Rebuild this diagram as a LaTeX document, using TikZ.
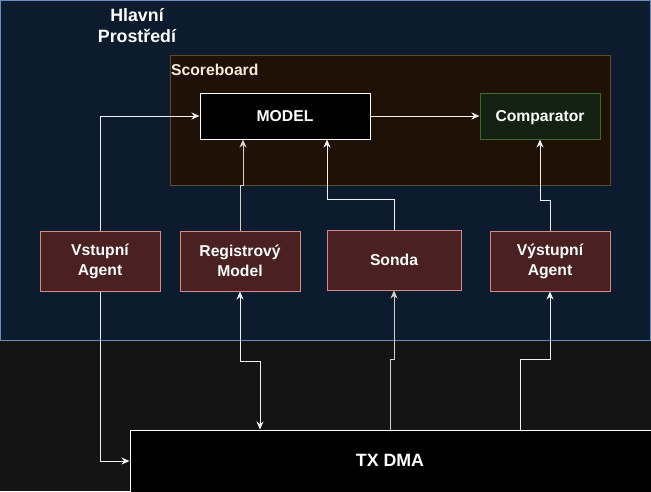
\documentclass[tikz,border=0pt]{standalone}
\usepackage{fontspec}
\setmainfont{Liberation Sans}
\usetikzlibrary{arrows.meta}
\definecolor{bgc}{HTML}{141414}
\definecolor{mainf}{HTML}{0C1B2E}
\definecolor{maind}{HTML}{6B8CBA}
\definecolor{sbf}{HTML}{1F1105}
\definecolor{sbd}{HTML}{5D4A26}
\definecolor{cmpf}{HTML}{132212}
\definecolor{cmpd}{HTML}{3B6B26}
\definecolor{agf}{HTML}{4A2020}
\definecolor{agd}{HTML}{D08A8A}
\definecolor{cream}{HTML}{F5ECD7}
\definecolor{linec}{HTML}{F0F0F0}
\definecolor{lineb}{HTML}{D8D0C4}
\tikzset{
  txt/.style={font=\bfseries\fontsize{15.7}{20}\selectfont, text=white, align=center},
  bigtxt/.style={font=\bfseries\fontsize{17.8}{21}\selectfont, text=white, align=center},
  agentbox/.style={draw=agd, fill=agf, line width=1pt, minimum height=60pt, txt, inner sep=0pt},
  arr/.style={draw=linec, line width=1pt, -{Stealth[length=8pt,width=7pt,inset=2.5pt]}},
  arrb/.style={draw=linec, line width=1pt, {Stealth[length=8pt,width=7pt,inset=2.5pt]}-{Stealth[length=8pt,width=7pt,inset=2.5pt]}},
}
\begin{document}
\begin{tikzpicture}[x=1pt,y=-1pt]
\useasboundingbox (0,0) rectangle (651,491);
\fill[bgc] (0,0) rectangle (651,491);
% main environment
\node[draw=maind, fill=mainf, line width=1pt, minimum width=650pt, minimum height=340pt, inner sep=0pt] (main) at (325,170) {};
\node[bigtxt] (mainl) at (137,26) {Hlavní\\Prostředí};
% scoreboard
\node[draw=sbd, fill=sbf, line width=1pt, minimum width=440pt, minimum height=130pt, inner sep=0pt] (sb) at (390,120) {};
\node[font=\bfseries\fontsize{15.7}{20}\selectfont, text=cream, anchor=west, inner sep=0pt] (sbl) at (171,70) {Scoreboard};
% model and comparator
\node[draw=white, fill=black, line width=1pt, minimum width=170pt, minimum height=46pt, inner sep=0pt, txt] (model) at (285,116) {MODEL};
\node[draw=cmpd, fill=cmpf, line width=1pt, minimum width=120pt, minimum height=46pt, inner sep=0pt, txt, text depth=0pt] (comp) at (540,116) {Comparator};
% agents
\node[agentbox, minimum width=120pt] (va) at (100,261) {Vstupní\\Agent};
\node[agentbox, minimum width=120pt] (rm) at (240,261) {Registrový\\Model};
\node[agentbox, minimum width=134pt] (so) at (394,260) {Sonda};
\node[agentbox, minimum width=120pt] (vy) at (550,261) {Výstupní\\Agent};
% TX DMA
\node[draw=white, fill=black, line width=1pt, minimum width=522pt, minimum height=62pt, inner sep=0pt, bigtxt] (tx) at (391,461) {};
\node[bigtxt] (txl) at (390,460.5) {TX DMA};
% connectors
\draw[arr] (model.east) -- (comp.west);
\draw[arr] (va.north) |- (model.west);
\draw[arr] (va.south) |- (tx.west);
\draw[arr, draw=lineb] (rm.north) -- ++(0,-45) -| ([xshift=-42pt]model.south);
\draw[arrb] (rm.south) -- ++(0,70) -| ([xshift=-131pt]tx.north);
\draw[arr] (so.north) -- ++(0,-30) -| ([xshift=42pt]model.south);
\draw[arr, draw=lineb] ([xshift=-1pt]tx.north) -- ++(0,-70) -| (so.south);
\draw[arr] (vy.north) -- ++(0,-30) -| (comp.south);
\draw[arr] ([xshift=129.5pt]tx.north) -- ++(0,-70) -| (vy.south);
\end{tikzpicture}
\end{document}
